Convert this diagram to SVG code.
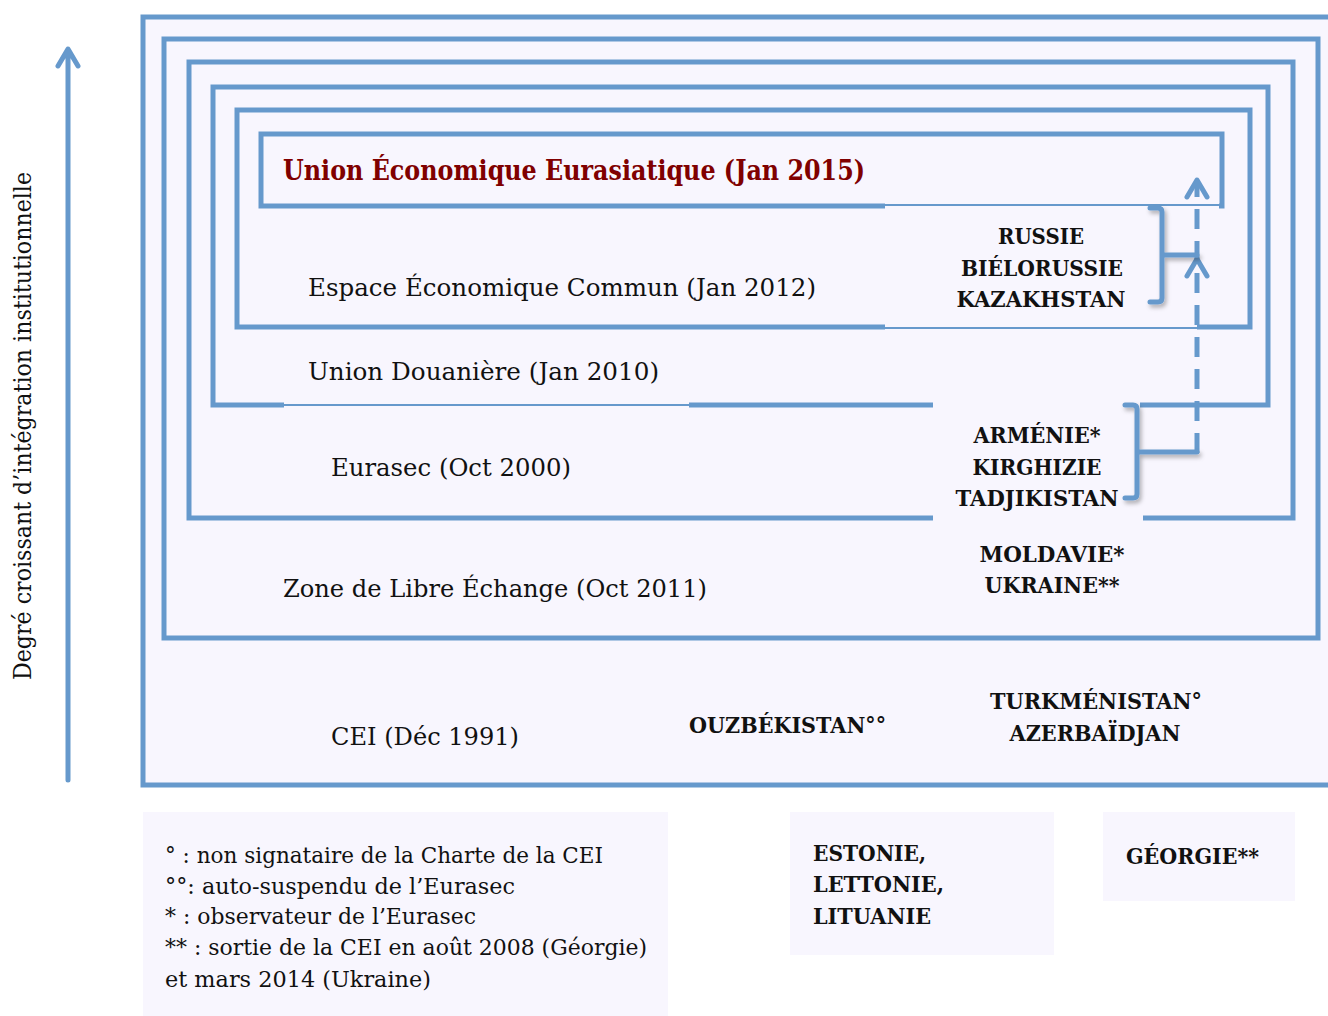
<svg xmlns="http://www.w3.org/2000/svg" width="1328" height="1016" viewBox="0 0 1328 1016">
<defs>
<style>
.frame{fill:none;stroke:#6699cc;stroke-width:5;stroke-linejoin:miter}
.thin{stroke:#6699cc;stroke-width:2;fill:none}
.cover{fill:#f8f6fe;stroke:none}
.legend{fill:#f8f6fe;stroke:none}
.lbl{font-family:"DejaVu Serif","Liberation Serif",serif;font-size:25px;fill:#111}
.cty{font-family:"DejaVu Serif","Liberation Serif",serif;font-size:23px;font-weight:bold;fill:#111;text-anchor:middle}
.lft{font-family:"DejaVu Serif","Liberation Serif",serif;font-size:23px;font-weight:bold;fill:#111}
.leg{font-family:"DejaVu Serif","Liberation Serif",serif;font-size:23px;fill:#111}
.title{font-family:"DejaVu Serif","Liberation Serif",serif;font-size:27px;font-weight:bold;fill:#800000}
.brace{fill:none;stroke:#6699cc;stroke-width:5;stroke-linecap:round;stroke-linejoin:round}
.arrow{fill:none;stroke:#6699cc;stroke-width:5;stroke-linecap:round;stroke-linejoin:round}
</style>
<filter id="sh" x="-50%" y="-50%" width="200%" height="200%">
<feDropShadow dx="2" dy="3" stdDeviation="2" flood-color="#000" flood-opacity="0.3"/>
</filter>
</defs>
<rect width="1328" height="1016" fill="#ffffff"/>

<g id="cei">
<rect x="143" y="17" width="1200" height="768" style="fill:#f8f6fe;stroke:#6699cc;stroke-width:5"/>
<text class="lbl" x="331" y="745" textLength="188" lengthAdjust="spacingAndGlyphs">CEI (Déc 1991)</text>
</g>
<g id="zle">
<rect x="164" y="39" width="1154" height="599" class="frame"/>
<text class="lbl" x="283" y="597" textLength="424" lengthAdjust="spacingAndGlyphs">Zone de Libre Échange (Oct 2011)</text>
</g>
<g id="eurasec">
<rect x="189" y="62" width="1104" height="456" class="frame"/>
<text class="lbl" x="331" y="476" textLength="240" lengthAdjust="spacingAndGlyphs">Eurasec (Oct 2000)</text>
</g>
<g id="ud">
<rect x="213" y="87" width="1055" height="318" class="frame"/>
<rect class="cover" x="284" y="399" width="405" height="10"/>
<line class="thin" x1="284" y1="405" x2="689" y2="405"/>
<text class="lbl" x="308" y="380" textLength="351" lengthAdjust="spacingAndGlyphs">Union Douanière (Jan 2010)</text>
</g>
<g id="eec">
<rect x="237" y="110" width="1013" height="217" class="frame"/>
<text class="lbl" x="308" y="296" textLength="508" lengthAdjust="spacingAndGlyphs">Espace Économique Commun (Jan 2012)</text>
</g>
<g id="uee">
<rect x="261" y="134" width="961" height="72" class="frame"/>
<text class="title" x="283" y="180" textLength="582" lengthAdjust="spacingAndGlyphs">Union Économique Eurasiatique (Jan 2015)</text>
</g>

<g id="russie-box">
<rect class="cover" x="885" y="201" width="334" height="8"/>
<rect class="cover" x="885" y="322" width="312" height="10"/>
<line class="thin" x1="885" y1="205" x2="1222" y2="205"/>
<line class="thin" x1="885" y1="328" x2="1197" y2="328"/>
<text class="cty" x="1041" y="244" textLength="86" lengthAdjust="spacingAndGlyphs">RUSSIE</text>
<text class="cty" x="1042" y="276" textLength="162" lengthAdjust="spacingAndGlyphs">BIÉLORUSSIE</text>
<text class="cty" x="1041" y="307" textLength="169" lengthAdjust="spacingAndGlyphs">KAZAKHSTAN</text>
</g>

<g id="armenie-box">
<rect class="cover" x="933" y="399" width="207" height="10"/>
<rect class="cover" x="933" y="513" width="210" height="10"/>
<text class="cty" x="1037" y="443" textLength="127" lengthAdjust="spacingAndGlyphs">ARMÉNIE*</text>
<text class="cty" x="1037" y="475" textLength="129" lengthAdjust="spacingAndGlyphs">KIRGHIZIE</text>
<text class="cty" x="1037" y="506" textLength="163" lengthAdjust="spacingAndGlyphs">TADJIKISTAN</text>
</g>

<g id="moldavie">
<text class="cty" x="1052" y="562" textLength="145" lengthAdjust="spacingAndGlyphs">MOLDAVIE*</text>
<text class="cty" x="1052" y="593" textLength="135" lengthAdjust="spacingAndGlyphs">UKRAINE**</text>
</g>
<g id="ouzbekistan">
<text class="lft" x="689" y="733" textLength="197" lengthAdjust="spacingAndGlyphs">OUZBÉKISTAN°°</text>
</g>
<g id="turkmenistan">
<text class="cty" x="1096" y="709" textLength="212" lengthAdjust="spacingAndGlyphs">TURKMÉNISTAN°</text>
<text class="cty" x="1095" y="741" textLength="171" lengthAdjust="spacingAndGlyphs">AZERBAÏDJAN</text>
</g>

<g id="connectors">
<path class="arrow" d="M68,780 V50 M58,66 L68,49 L78,66"/>
<line x1="1197" y1="453" x2="1197" y2="183" stroke="#6699cc" stroke-width="5" stroke-dasharray="20 12"/>
<path class="arrow" d="M1187,197 L1197,180 L1207,197"/>
<path class="arrow" d="M1187,276 L1197,259 L1207,276"/>
<g filter="url(#sh)">
<path class="brace" d="M1150,208 H1158 Q1162,208 1162,212 V298 Q1162,302 1158,302 H1150 M1162,255 H1197"/>
<path class="brace" d="M1125,405 H1133 Q1137,405 1137,409 V494 Q1137,498 1133,498 H1125 M1137,452 H1197"/>
</g>
</g>

<g id="axis-label">
<text class="lbl" transform="translate(31,426) rotate(-90)" text-anchor="middle" textLength="508" lengthAdjust="spacingAndGlyphs">Degré croissant d’intégration institutionnelle</text>
</g>

<g id="legend">
<rect class="legend" x="143" y="812" width="525" height="204"/>
<text class="leg" x="165" y="863" textLength="438" lengthAdjust="spacingAndGlyphs">° : non signataire de la Charte de la CEI</text>
<text class="leg" x="165" y="894" textLength="350" lengthAdjust="spacingAndGlyphs">°°: auto-suspendu de l’Eurasec</text>
<text class="leg" x="165" y="924" textLength="311" lengthAdjust="spacingAndGlyphs">* : observateur de l’Eurasec</text>
<text class="leg" x="165" y="955" textLength="482" lengthAdjust="spacingAndGlyphs">** : sortie de la CEI en août 2008 (Géorgie)</text>
<text class="leg" x="165" y="987" textLength="266" lengthAdjust="spacingAndGlyphs">et mars 2014 (Ukraine)</text>
</g>
<g id="baltes">
<rect class="legend" x="790" y="812" width="264" height="143"/>
<text class="lft" x="813" y="861" textLength="113" lengthAdjust="spacingAndGlyphs">ESTONIE,</text>
<text class="lft" x="813" y="892" textLength="131" lengthAdjust="spacingAndGlyphs">LETTONIE,</text>
<text class="lft" x="813" y="924" textLength="118" lengthAdjust="spacingAndGlyphs">LITUANIE</text>
</g>
<g id="georgie">
<rect class="legend" x="1103" y="812" width="192" height="89"/>
<text class="lft" x="1126" y="864" textLength="133" lengthAdjust="spacingAndGlyphs">GÉORGIE**</text>
</g>
</svg>
